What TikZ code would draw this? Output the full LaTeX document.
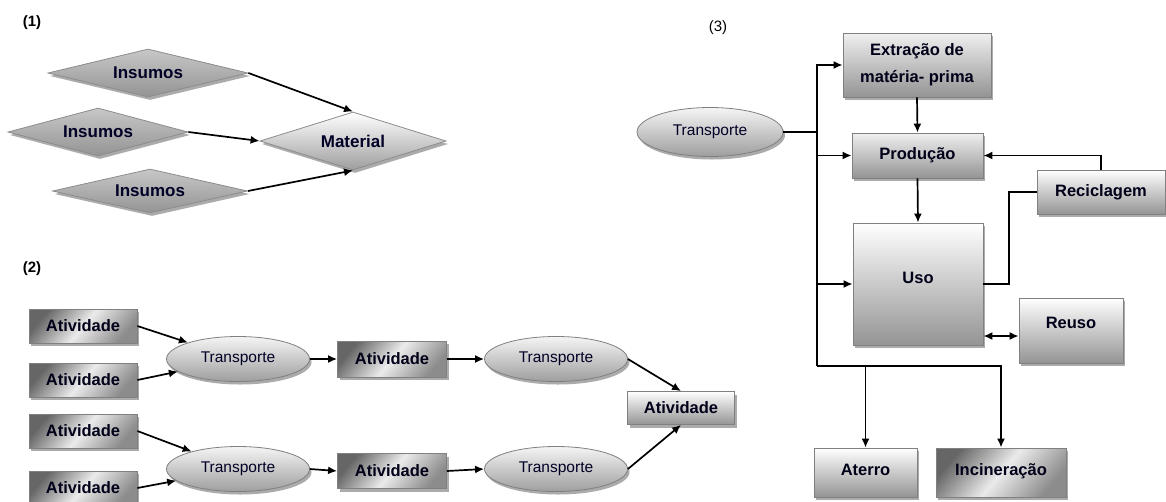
\documentclass[tikz,border=0pt]{standalone}
\usepackage{fontspec}
\setmainfont{Liberation Sans}
\usetikzlibrary{shapes.geometric,arrows.meta,shadows,calc}

\tikzset{
  lbl/.style={font=\fontsize{15}{17}\bfseries\selectfont},
  shad/.style={drop shadow={shadow xshift=2pt,shadow yshift=-3pt,fill=black!55,opacity=0.6}},
  boxbase/.style={rectangle, draw=black!50, line width=0.8pt, inner sep=0pt, shad,
    font=\fontsize{16.5}{20}\bfseries\selectfont, text=black!90!blue, align=center},
  darkbox/.style={boxbase, top color=black!60, bottom color=black!45, middle color=black!8, shading angle=50},
  lightbox/.style={boxbase, top color=white, bottom color=black!42},
  midbox/.style={boxbase, top color=black!6, bottom color=black!42},
  oval/.style={ellipse, draw=black!50, line width=0.8pt, inner sep=0pt, shad,
    top color=black!4, bottom color=black!38,
    font=\fontsize{15.5}{18}\selectfont, text=black!85!blue},
  gem/.style={diamond, aspect=4, draw=black!45, line width=0.8pt, inner sep=0pt, shad,
    font=\fontsize{17}{20}\bfseries\selectfont, text=black!85!blue},
  gemdark/.style={gem, top color=black!22, bottom color=black!42},
  gemlight/.style={gem, top color=white, bottom color=black!38},
  tip/.style={Latex[length=9pt,width=8pt]},
  arr/.style={line width=1.7pt, -{Latex[length=9pt,width=8pt]}},
  arrboth/.style={line width=1.7pt, {Latex[length=9pt,width=8pt]}-{Latex[length=9pt,width=8pt]}},
  link/.style={line width=1.7pt},
}

\begin{document}
\begin{tikzpicture}[x=1pt,y=-1pt]
\useasboundingbox[fill=white] (0,0) rectangle (1166,501);

% ---------- (1) inputs combined into a material ----------
\node[lbl] (l1) at (32,23) {(1)};
\node[gemdark, minimum width=200pt, minimum height=48pt] (i1) at (148,73) {Insumos};
\node[gemdark, minimum width=180pt, minimum height=48pt] (i2) at (98,132) {Insumos};
\node[gemdark, minimum width=195pt, minimum height=44pt] (i3) at (150,191) {Insumos};
\node[gemlight, minimum width=186pt, minimum height=58pt] (mat) at (353,141) {Material};

\draw[arr] (i1.east) -- (mat.north);
\draw[arr] (i2.east) -- (mat.west);
\draw[arr] (i3.east) -- (mat.south);

% ---------- (2) activities linked by transport ----------
\node[lbl] (l2) at (32,269) {(2)};
\node[darkbox, minimum width=108pt, minimum height=34pt] (a1) at (83,326) {Atividade};
\node[darkbox, minimum width=108pt, minimum height=34pt] (a2) at (83,380) {Atividade};
\node[darkbox, minimum width=108pt, minimum height=34pt] (a3) at (83,431) {Atividade};
\node[darkbox, minimum width=108pt, minimum height=34pt] (a4) at (83,488) {Atividade};

\node[oval, minimum width=143pt, minimum height=45pt] (t1) at (238,359) {Transporte};
\node[oval, minimum width=143pt, minimum height=45pt] (t2) at (238,469) {Transporte};

\node[darkbox, minimum width=109pt, minimum height=36pt] (b1) at (392,359) {Atividade};
\node[darkbox, minimum width=109pt, minimum height=35pt] (b2) at (392,471) {Atividade};

\node[oval, minimum width=143pt, minimum height=45pt] (t3) at (556,359) {Transporte};
\node[oval, minimum width=143pt, minimum height=45pt] (t4) at (556,469) {Transporte};

\node[lightbox, minimum width=107pt, minimum height=33pt] (fin) at (681,408) {Atividade};

\draw[arr] (a1.east) -- (t1);
\draw[arr] (a2.east) -- (t1);
\draw[arr] (a3.east) -- (t2);
\draw[arr] (a4.east) -- (t2);
\draw[arr] (t1.east) -- (b1.west);
\draw[arr] (t2.east) -- (b2.west);
\draw[arr] (b1.east) -- (t3.west);
\draw[arr] (b2.east) -- (t4.west);
\draw[arr] (t3.east) -- (fin.north);
\draw[arr] (t4.east) -- (fin.south);

% ---------- (3) life cycle with transport ----------
\node[font=\fontsize{15}{17}\selectfont] (l3) at (718,28) {(3)};
\node[oval, minimum width=146pt, minimum height=49pt] (tr) at (710,132) {Transporte};
\node[midbox, minimum width=148pt, minimum height=64pt, font=\fontsize{16.5}{27}\bfseries\selectfont] (ext) at (917,65) {Extração de\\matéria- prima};
\node[midbox, minimum width=131pt, minimum height=45pt] (prod) at (917.5,155.5) {Produção};
\node[lightbox, minimum width=130pt, minimum height=122pt] (uso) at (918,284) {\raisebox{12pt}{Uso}};
\node[lightbox, minimum width=128pt, minimum height=44pt] (rec) at (1101,192) {Reciclagem};
\node[lightbox, minimum width=104pt, minimum height=65pt] (reu) at (1071,330.5) {\raisebox{15pt}{Reuso}};
\node[lightbox, minimum width=103pt, minimum height=49pt] (ate) at (865.5,472.5) {\raisebox{6pt}{Aterro}};
\node[darkbox, minimum width=130pt, minimum height=49pt] (inc) at (1001,472.5) {\raisebox{6pt}{Incineração}};

\coordinate (j) at (817,132);
\coordinate (jb) at (817,366);
\coordinate (rk) at (1009,192);

\draw[link] (tr.east) -- (j) -- (jb);
\draw[arr] (j) |- (ext.west);
\draw[arr] (j) |- (prod.west);
\draw[arr] (j) |- (uso.west);
\draw[arr] (jb) -| (ate.north);
\draw[arr] (jb) -| (inc.north);

\draw[arr] (ext.south) -- (prod.north);
\draw[arr] (prod.south) -- (uso.north);
\draw[arr] (rec.north) |- (prod.east);
\draw[link] (rec.west) -- (rk) |- (uso.east);
\draw[arrboth] ($(uso.east)+(0,52)$) -- ($(reu.west)+(0,5.5)$);
\end{tikzpicture}
\end{document}
